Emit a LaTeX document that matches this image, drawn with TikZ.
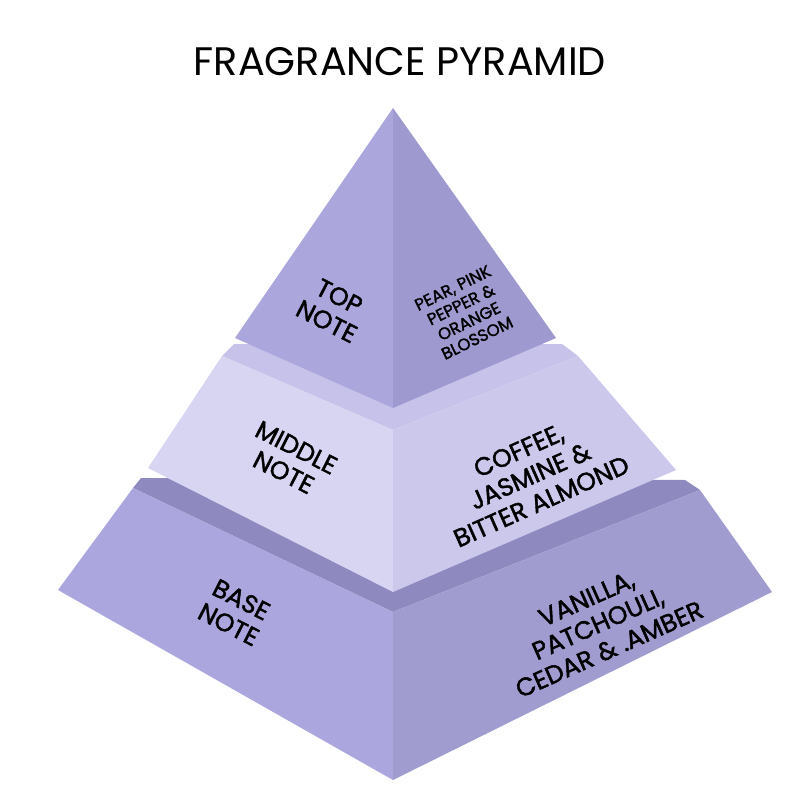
\documentclass[tikz,border=0pt]{standalone}
\usepackage{fontspec}
\setmainfont{Poppins}
\newfontfamily\heavyf[FakeBold=1.6]{Poppins}
\begin{document}
\begin{tikzpicture}[x=0.0265cm,y=-0.0265cm,
  lbl/.style={align=center,font=\heavyf\fontsize{19}{21}\selectfont,text=black,inner sep=0pt},
  sml/.style={align=center,font=\heavyf\fontsize{12.5}{14}\selectfont,text=black,inner sep=0pt}]
\definecolor{tL}{HTML}{ABA7DD}\definecolor{tR}{HTML}{9E99CF}
\definecolor{mT}{HTML}{C6C2EA}\definecolor{mL}{HTML}{D7D5F2}\definecolor{mR}{HTML}{CBC8EC}
\definecolor{bT}{HTML}{8E8ABF}\definecolor{bL}{HTML}{ABA7DE}\definecolor{bR}{HTML}{A09CD0}
\useasboundingbox (0,0) rectangle (800,800);
\fill[white] (0,0) rectangle (800,800);
\node[font=\fontsize{30}{34}\selectfont] (title) at (400,62) {FRAGRANCE PYRAMID};
% base
\fill[bT] (141,478) -- (133,488) -- (393,612) -- (700,490) -- (685,480) -- cycle;
\fill[bL] (133,488) -- (58,590) -- (393,780) -- (393,612) -- cycle;
\fill[bR] (393,612) -- (393,780) -- (772,592) -- (700,490) -- cycle;
% middle
\fill[mT] (234,344) -- (222,356) -- (393,430) -- (578,356) -- (562,344) -- cycle;
\fill[mL] (222,356) -- (148,468) -- (393,592) -- (393,430) -- cycle;
\fill[mR] (393,430) -- (393,592) -- (676,470) -- (578,356) -- cycle;
% top
\fill[tL] (393,108) -- (235,338) -- (393,408) -- cycle;
\fill[tR] (393,108) -- (393,408) -- (556,338) -- cycle;
% labels
\node[lbl,rotate=-27] (tn) at (333,309) {TOP\\NOTE};
\node[sml,rotate=26] (tt) at (465,313) {PEAR, PINK\\PEPPER \&\\ORANGE\\BLOSSOM};
\node[lbl,rotate=-27] (mn) at (290,460) {MIDDLE\\NOTE};
\node[lbl,rotate=24] (mt) at (530,476) {COFFEE,\\JASMINE \&\\BITTER ALMOND};
\node[lbl,rotate=-27] (bn) at (235,612) {BASE\\NOTE};
\node[lbl,rotate=24] (bt) at (598,624) {VANILLA,\\PATCHOULI,\\CEDAR \& .AMBER};
\end{tikzpicture}
\end{document}
